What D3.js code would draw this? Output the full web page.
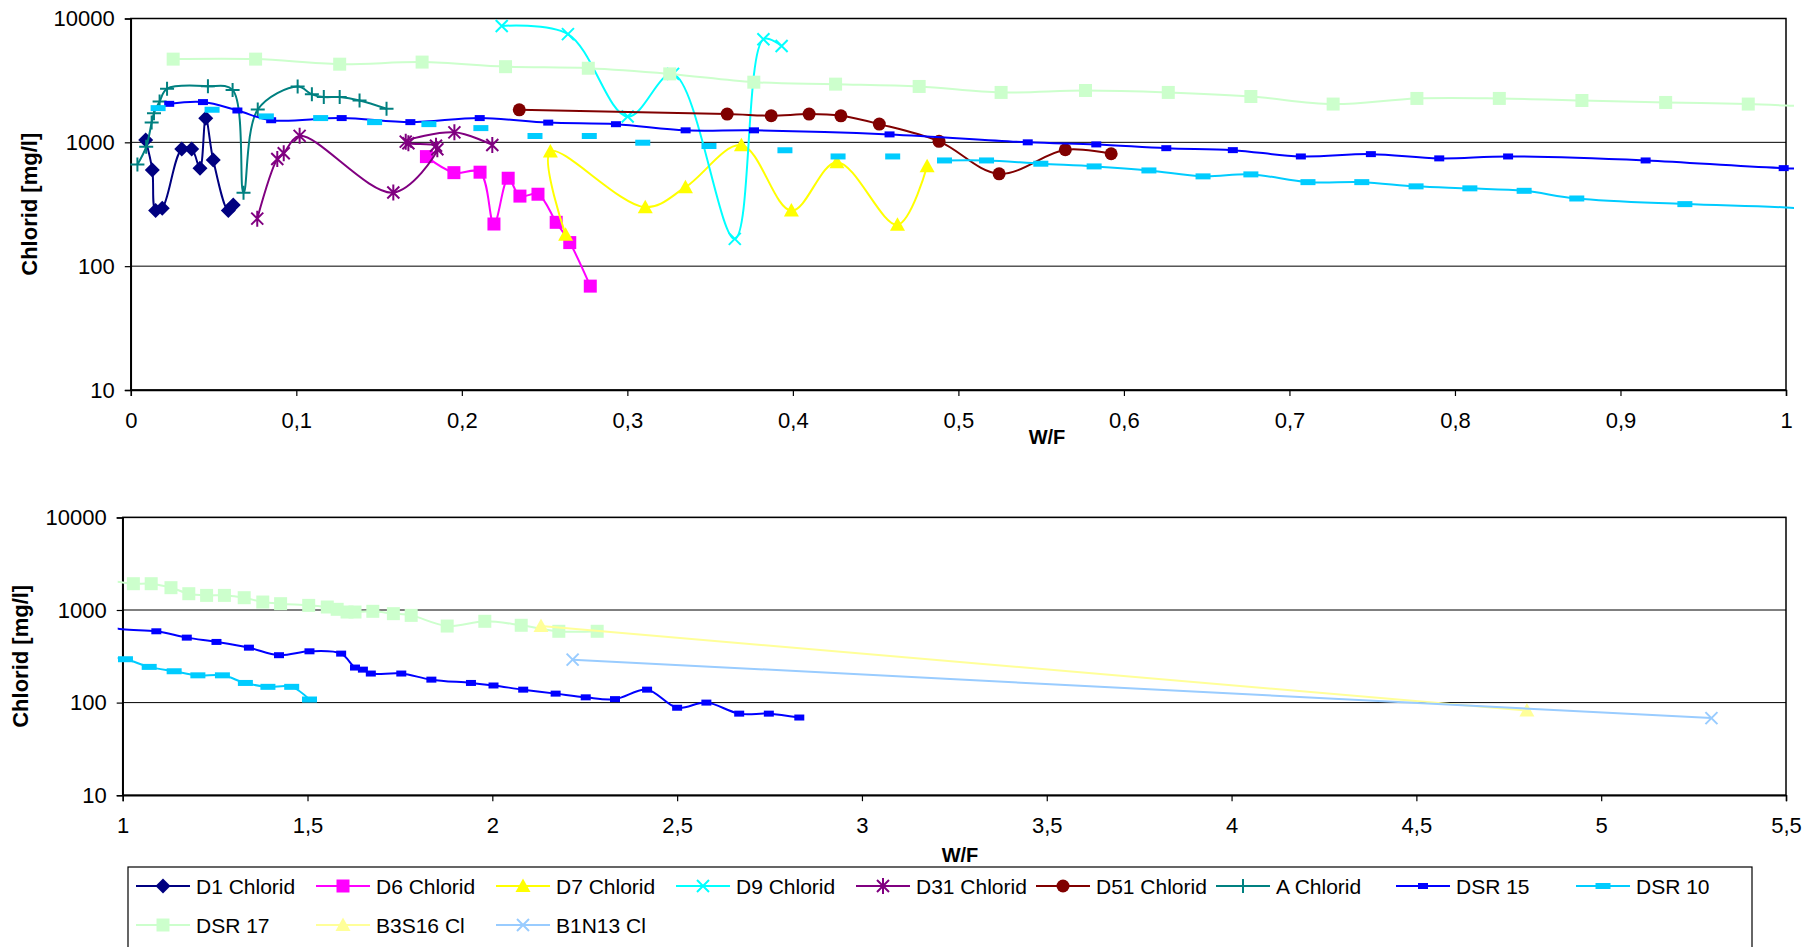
<!DOCTYPE html>
<html>
<head>
<meta charset="utf-8">
<script src="https://cdn.jsdelivr.net/npm/d3@7"></script>
<style>
  body { margin: 0; background: #fff; }
  svg { display: block; }
  text { font-family: "Liberation Sans", Arial, sans-serif; fill: #000; }
</style>
</head>
<body>
<svg id="chart" width="1815" height="947"></svg>
<script>
// ---- Tick values ----
const yTicks = [10, 100, 1000, 10000];
const xTicksTop = [0, 0.1, 0.2, 0.3, 0.4, 0.5, 0.6, 0.7, 0.8, 0.9, 1];
const xTicksBottom = [1, 1.5, 2, 2.5, 3, 3.5, 4, 4.5, 5, 5.5];

// ---- Measured series: W/F and chloride [mg/l] ----
const d1W  = [0.009, 0.013, 0.015, 0.019, 0.0308, 0.0368, 0.0418, 0.0453, 0.0498, 0.0589, 0.0619];
const d1Cl = [1045, 598, 281, 293, 883, 883, 617, 1563, 719, 281, 312];

const d6W  = [0.1786, 0.1952, 0.211, 0.2194, 0.228, 0.2351, 0.246, 0.257, 0.2652, 0.2776];
const d6Cl = [767, 569, 574, 219, 513, 368, 381, 226, 155, 69];

const d7W  = [0.2627, 0.2535, 0.3108, 0.3351, 0.3689, 0.3991, 0.4266, 0.4632, 0.4811];
const d7Cl = [179, 842, 299, 434, 948, 281, 692, 216, 640];

const d9W  = [0.2241, 0.2641, 0.3002, 0.3276, 0.3649, 0.3822, 0.3932];
const d9Cl = [8700, 7480, 1615, 3570, 166, 6800, 6005];

const d31W  = [0.0764, 0.0885, 0.0924, 0.102, 0.1586, 0.1852, 0.1844, 0.1677, 0.1661, 0.1955, 0.2184];
const d31Cl = [242, 733, 816, 1128, 393, 879, 939, 982, 1013, 1204, 953];

const d51W  = [0.2347, 0.3603, 0.3869, 0.4098, 0.429, 0.4522, 0.4883, 0.5246, 0.5646, 0.5923];
const d51Cl = [1830, 1692, 1640, 1690, 1637, 1403, 1019, 557, 871, 809];

const aW  = [0.004, 0.0093, 0.0126, 0.014, 0.0174, 0.0219, 0.0466, 0.0615, 0.0681, 0.0767, 0.1008, 0.1094, 0.1166, 0.1262, 0.1382, 0.1545];
const aCl = [662, 920, 1445, 1720, 2135, 2710, 2840, 2650, 391, 1840, 2820, 2440, 2319, 2319, 2178, 1866];

const dsr15W  = [0.0232, 0.0436, 0.0644, 0.0848, 0.1274, 0.1689, 0.2108, 0.2522, 0.2931, 0.3352, 0.3765, 0.4584, 0.5419, 0.5833, 0.6256, 0.6658, 0.7069, 0.7492, 0.7905, 0.8321, 0.9152, 0.9986,
                 1.091, 1.1734, 1.2537, 1.3415, 1.4229, 1.5053, 1.591, 1.6285, 1.6499, 1.6713, 1.7537, 1.8351, 1.9422, 2.0032, 2.0835, 2.1713, 2.2527, 2.3319, 2.4187, 2.5, 2.5791, 2.6679, 2.7481, 2.8305];
const dsr15Cl = [2046, 2113, 1808, 1508, 1570, 1456, 1570, 1443, 1401, 1250, 1250, 1159, 1000, 962, 897, 865, 769, 803, 742, 769, 714, 619,
                 589, 503, 452, 392, 325, 358, 338, 239, 227, 206, 206, 177, 163, 153, 138, 125, 114, 109, 138, 88, 100, 76, 76, 69];

// null marks a break in the measured line (single readings without a connecting line)
const dsr10W  = [0.0165, 0, 0.0491, 0, 0.0819, 0, 0.1147, 0, 0.1473, 0, 0.1801, 0, 0.2115, 0, 0.2442, 0, 0.277, 0, 0.3093, 0, 0.3493, 0, 0.3952, 0, 0.4273, 0, 0.4603, 0,
                 0.4916, 0.517, 0.5498, 0.582, 0.6151, 0.6478, 0.6767, 0.7112, 0.7437, 0.7765, 0.809, 0.8418, 0.8736, 0.9389,
                 1.0075, 1.0717, 1.1392, 1.2034, 1.2698, 1.3319, 1.3929, 1.4572, 1.5054];
const dsr10Cl = [1889, null, 1833, null, 1619, null, 1570, null, 1456, null, 1403, null, 1303, null, 1125, null, 1125, null, 993, null, 934, null, 863, null, 769, null, 769, null,
                 714, 714, 672, 639, 593, 531, 551, 477, 477, 441, 425, 406, 352, 317,
                 294, 243, 218, 197, 197, 163, 148, 148, 108];

const dsr17W  = [0.0256, 0.0754, 0.1262, 0.176, 0.2264, 0.2764, 0.3256, 0.3764, 0.4258, 0.4763, 0.5258, 0.5768, 0.6268, 0.6767, 0.7264, 0.777, 0.8268, 0.8767, 0.9273, 0.9772,
                 1.0289, 1.0771, 1.1306, 1.1788, 1.227, 1.2752, 1.3287, 1.379, 1.4272, 1.5032, 1.5535, 1.5803, 1.607, 1.6285, 1.6767, 1.7323, 1.7805, 1.8779, 1.9797, 2.0782, 2.1799, 2.2837];
const dsr17Cl = [4699, 4699, 4276, 4446, 4083, 3966, 3570, 3060, 2951, 2826, 2529, 2623, 2529, 2344, 2037, 2262, 2262, 2178, 2099, 2037,
                 1923, 1923, 1742, 1500, 1438, 1438, 1358, 1219, 1170, 1122, 1077, 1017, 951, 951, 968, 913, 875, 671, 755, 684, 589, 589];

const b3s16W  = [2.1317, 4.799];
const b3s16Cl = [671, 82];

const b1n13W  = [2.2173, 5.2983];
const b1n13Cl = [291, 68];

// ---- Series styling ----
const series = [
  { name: "D1 Chlorid",  w: d1W,    c: d1Cl,    color: "#000080", marker: "diamond" },
  { name: "D6 Chlorid",  w: d6W,    c: d6Cl,    color: "#FF00FF", marker: "square" },
  { name: "D7 Chlorid",  w: d7W,    c: d7Cl,    color: "#FFFF00", marker: "triangle" },
  { name: "D9 Chlorid",  w: d9W,    c: d9Cl,    color: "#00FFFF", marker: "cross" },
  { name: "D31 Chlorid", w: d31W,   c: d31Cl,   color: "#800080", marker: "star" },
  { name: "D51 Chlorid", w: d51W,   c: d51Cl,   color: "#800000", marker: "circle" },
  { name: "A Chlorid",   w: aW,     c: aCl,     color: "#008080", marker: "plus" },
  { name: "DSR 15",      w: dsr15W, c: dsr15Cl, color: "#0000FF", marker: "barSmall" },
  { name: "DSR 10",      w: dsr10W, c: dsr10Cl, color: "#00CCFF", marker: "bar" },
  { name: "DSR 17",      w: dsr17W, c: dsr17Cl, color: "#CCFFCC", marker: "square" },
  { name: "B3S16 Cl",    w: b3s16W, c: b3s16Cl, color: "#FFFF99", marker: "triangle" },
  { name: "B1N13 Cl",    w: b1n13W, c: b1n13Cl, color: "#99CCFF", marker: "cross" }
];

// marker shapes, centred on the origin
function markerShape(sel, type, color) {
  const filled = (d) => sel.append("path").attr("d", d).attr("fill", color).attr("stroke", "none");
  const stroked = (d) => sel.append("path").attr("d", d).attr("fill", "none").attr("stroke", color).attr("stroke-width", 2);
  switch (type) {
    case "diamond":  filled("M0,-7.5L7.5,0L0,7.5L-7.5,0Z"); break;
    case "square":   filled("M-6.5,-6.5H6.5V6.5H-6.5Z"); break;
    case "triangle": filled("M0,-7.5L7.5,6L-7.5,6Z"); break;
    case "cross":    stroked("M-6,-6L6,6M-6,6L6,-6"); break;
    case "star":     stroked("M-6,-6L6,6M-6,6L6,-6M0,-8L0,8"); break;
    case "circle":   sel.append("circle").attr("r", 6.5).attr("fill", color); break;
    case "plus":     stroked("M-7,0H7M0,-7V7"); break;
    case "barSmall": filled("M-5,-3H5V3H-5Z"); break;
    case "bar":      filled("M-7.5,-3H7.5V3H-7.5Z"); break;
  }
}

const svg = d3.select("#chart");
const fmt = v => String(v).replace(".", ",");

const panels = [
  {
    x: d3.scaleLinear().domain([0, 1]).range([130.8, 1786]),
    y: d3.scaleLog().domain([10, 10000]).range([390, 18.5]),
    xTicks: xTicksTop, xTitle: [1047, 437], yTitleX: 29
  },
  {
    x: d3.scaleLinear().domain([1, 5.5]).range([122.7, 1786]),
    y: d3.scaleLog().domain([10, 10000]).range([795.2, 517.4]),
    xTicks: xTicksBottom, xTitle: [960, 855], yTitleX: 20
  }
];

panels.forEach((p, pi) => {
  const [x0, x1] = p.x.range();
  const [yB, yT] = p.y.range();
  const g = svg.append("g");

  // horizontal gridlines at each decade
  g.append("g").selectAll("line").data(yTicks).join("line")
    .attr("x1", x0).attr("x2", x1)
    .attr("y1", d => p.y(d)).attr("y2", d => p.y(d))
    .attr("stroke", "#000").attr("stroke-width", 1);

  // plot frame
  g.append("rect").attr("x", x0).attr("y", yT).attr("width", x1 - x0).attr("height", yB - yT)
    .attr("fill", "none").attr("stroke", "#000").attr("stroke-width", 1.5);

  // axes
  const xAxis = g.append("g").attr("transform", `translate(0,${yB})`)
    .call(d3.axisBottom(p.x).tickValues(p.xTicks).tickFormat(fmt).tickSize(6).tickPadding(16));
  const yAxis = g.append("g").attr("transform", `translate(${x0},0)`)
    .call(d3.axisLeft(p.y).tickValues(yTicks).tickFormat(d3.format("d")).tickSize(6).tickPadding(10));
  [xAxis, yAxis].forEach(a => {
    a.select(".domain").attr("stroke", "#000").attr("stroke-width", 1.5);
    a.selectAll(".tick line").attr("stroke", "#000").attr("stroke-width", 1.2);
    a.selectAll(".tick text").attr("font-size", 22).attr("fill", "#000")
      .attr("font-family", "'Liberation Sans', Arial, sans-serif");
  });

  // axis titles
  g.append("text").attr("x", p.xTitle[0]).attr("y", p.xTitle[1])
    .attr("text-anchor", "middle").attr("dominant-baseline", "central")
    .attr("font-size", 20).attr("font-weight", "bold").text("W/F");
  const yMid = (yB + yT) / 2;
  g.append("text").attr("transform", `translate(${p.yTitleX},${yMid}) rotate(-90)`)
    .attr("text-anchor", "middle").attr("dominant-baseline", "central")
    .attr("font-size", 22).attr("font-weight", "bold").text("Chlorid [mg/l]");

  // clip region for the data lines
  const clipId = "clip" + pi;
  svg.append("clipPath").attr("id", clipId).append("rect")
    .attr("x", x0 - 5).attr("y", yT - 2).attr("width", x1 - x0 + 13).attr("height", yB - yT + 4);

  const plot = g.append("g");
  const [dMin, dMax] = p.x.domain();

  series.forEach(s => {
    const pts = s.w.map((w, i) => [w, s.c[i]]);
    const line = d3.line()
      .defined(d => d[1] != null)
      .x(d => p.x(d[0])).y(d => p.y(d[1]))
      .curve(d3.curveCatmullRom.alpha(0.5));
    plot.append("path").datum(pts)
      .attr("clip-path", `url(#${clipId})`)
      .attr("d", line)
      .attr("fill", "none").attr("stroke", s.color).attr("stroke-width", 2)
      .attr("stroke-linejoin", "round");

    pts.filter(d => d[1] != null && d[0] >= dMin && d[0] <= dMax).forEach(d => {
      const mg = plot.append("g").attr("transform", `translate(${p.x(d[0])},${p.y(d[1])})`);
      markerShape(mg, s.marker, s.color);
    });
  });
});

// ---- Legend ----
const legend = svg.append("g");
legend.append("rect").attr("x", 128).attr("y", 867).attr("width", 1752 - 128).attr("height", 100)
  .attr("fill", "#fff").attr("stroke", "#000").attr("stroke-width", 1.2);

const legendCols = d3.range(9).map(i => 196 + i * 180);
const legendRows = [886, 925];
series.forEach((s, i) => {
  const tx = legendCols[i % 9];
  const ty = legendRows[Math.floor(i / 9)];
  legend.append("line").attr("x1", tx - 60).attr("x2", tx - 6).attr("y1", ty).attr("y2", ty)
    .attr("stroke", s.color).attr("stroke-width", 2);
  const mg = legend.append("g").attr("transform", `translate(${tx - 33},${ty})`);
  markerShape(mg, s.marker, s.color);
  legend.append("text").attr("x", tx).attr("y", ty).attr("dominant-baseline", "central")
    .attr("font-size", 21).text(s.name);
});
</script>
</body>
</html>
